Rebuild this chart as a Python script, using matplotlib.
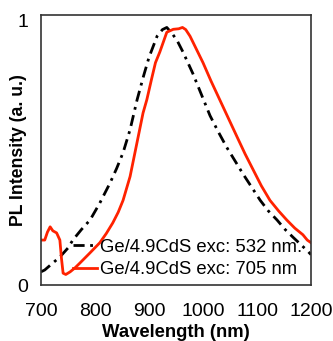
import numpy as np
import matplotlib
matplotlib.use('Agg')
import matplotlib.pyplot as plt

plt.rcParams['font.family'] = ['Liberation Sans', 'DejaVu Sans']

# 532 nm excitation (black, dash-dot)
wl_532 = [700, 707, 720, 735, 750, 759, 775, 791, 809, 828, 840, 852, 865, 878, 890,
          900, 915, 925, 933, 944, 953, 963, 981, 997, 1013, 1028, 1044, 1059, 1074,
          1090, 1106, 1121, 1137, 1152, 1167, 1180, 1193, 1200]
pl_532 = [0.05, 0.057, 0.08, 0.106, 0.14, 0.17, 0.21, 0.246, 0.31, 0.386, 0.44, 0.50,
          0.587, 0.70, 0.79, 0.86, 0.94, 0.965, 0.973, 0.947, 0.92, 0.88, 0.80, 0.72,
          0.64, 0.58, 0.52, 0.47, 0.42, 0.37, 0.32, 0.28, 0.246, 0.21, 0.18, 0.155,
          0.13, 0.115]

# 705 nm excitation (red, solid)
wl_705 = [700, 707, 712, 717, 722, 729, 735, 738, 741, 746, 754, 763, 772, 790, 809,
          821, 833, 843, 852, 865, 878, 889, 896, 905, 912, 920, 933, 945, 955, 962,
          968, 976, 988, 1000, 1015, 1031, 1047, 1063, 1078, 1093, 1108, 1124, 1140,
          1155, 1170, 1185, 1193, 1200]
pl_705 = [0.17, 0.17, 0.20, 0.22, 0.205, 0.197, 0.17, 0.10, 0.045, 0.04, 0.05, 0.065,
          0.083, 0.12, 0.16, 0.195, 0.235, 0.275, 0.32, 0.41, 0.54, 0.65, 0.70, 0.78,
          0.84, 0.88, 0.955, 0.966, 0.968, 0.973, 0.965, 0.94, 0.89, 0.84, 0.77, 0.70,
          0.63, 0.56, 0.495, 0.435, 0.375, 0.32, 0.28, 0.246, 0.215, 0.19, 0.17, 0.16]

labels = ['Ge/4.9CdS exc: 532 nm.', 'Ge/4.9CdS exc: 705 nm']

fig = plt.figure(figsize=(3.33, 3.41), dpi=100)
ax = fig.add_axes([0.123, 0.164, 0.811, 0.792])

ax.plot(wl_532, pl_532, color='black', lw=2, linestyle=(0, (4, 2, 1, 2)), label=labels[0])
ax.plot(wl_705, pl_705, color='#ff2200', lw=2, label=labels[1])

ax.set_xlim(700, 1200)
ax.set_ylim(0, 1.02)
ax.set_xticks([700, 800, 900, 1000, 1100, 1200])
ax.set_yticks([0, 1])
ax.tick_params(length=0, labelsize=14)
ax.tick_params(axis='x', pad=13)
ax.tick_params(axis='y', pad=9)
ax.set_xlabel('Wavelength (nm)', fontsize=13.3, fontweight='bold', labelpad=3)
ax.set_ylabel('PL Intensity (a. u.)', fontsize=12.7, fontweight='bold')
ax.yaxis.set_label_coords(-0.052, 0.5)
for s in ax.spines.values():
    s.set_linewidth(1.2)
    s.set_color('#333333')

ax.legend(loc='lower left', frameon=False, fontsize=13.3, handlelength=1.3,
          handletextpad=0.15, labelspacing=0.3, borderpad=0, borderaxespad=0,
          bbox_to_anchor=(0.12, 0.025))

fig.savefig('out.png', dpi=100)
